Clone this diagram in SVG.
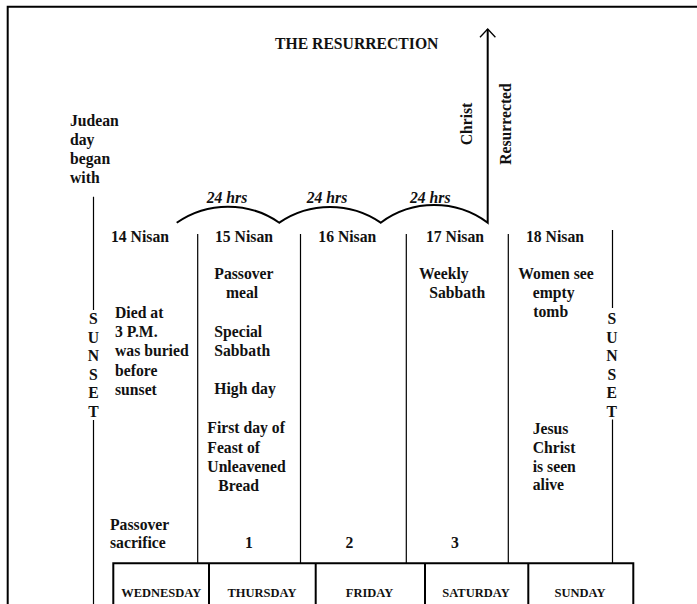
<svg xmlns="http://www.w3.org/2000/svg" width="697" height="604" viewBox="0 0 697 604">
<style>
text{font-family:"Liberation Serif","Times New Roman",serif;font-weight:bold;font-size:15.7px;fill:#111}
.it{font-style:italic}
.day{font-size:12.5px;text-anchor:middle}
.mid{text-anchor:middle}
.thin{stroke:#000;stroke-width:1.2;fill:none}
.thick{stroke:#000;stroke-width:2;fill:none}
</style>
<rect width="697" height="604" fill="#fff"/>
<g id="frame">
<path class="thick" d="M7.7,604 V6.7 H697"/>
</g>
<g id="title"><text x="275" y="49.3">THE RESURRECTION</text></g>
<g id="judean">
<text x="70" y="126">Judean</text>
<text x="70" y="144.9">day</text>
<text x="70" y="163.8">began</text>
<text x="70" y="182.7">with</text>
</g>
<g id="connectors">
<path class="thick" d="M176.7,222.7 A90,90 0 0 1 279.3,222.7 A90,90 0 0 1 380.7,222.7 A90,90 0 0 1 487.7,222.7 V29"/>
<path stroke="#000" stroke-width="1.3" fill="none" d="M480,37.2 L487.7,29 L495.4,37.2"/>
</g>
<g id="resurrected">
<text class="mid" transform="translate(471.5,124) rotate(-90)">Christ</text>
<text class="mid" transform="translate(510.5,124) rotate(-90)">Resurrected</text>
</g>
<g id="hours">
<text class="it" x="206.7" y="202.7">24 hrs</text>
<text class="it" x="306.7" y="202.7">24 hrs</text>
<text class="it" x="410" y="202.7">24 hrs</text>
</g>
<g id="gridlines">
<path class="thin" d="M93.5,196.7 V310 M93.5,420 V604"/>
<path class="thin" d="M612.5,230 V308 M612.5,419.5 V563.3"/>
<path class="thin" d="M197.7,234 V563.3 M300.5,234 V563.3 M406.3,234 V563.3 M508.3,234 V563.3"/>
</g>
<g id="sunset-left">
<text class="mid" x="93.4" y="324">S</text>
<text class="mid" x="93.4" y="342.6">U</text>
<text class="mid" x="93.4" y="361.2">N</text>
<text class="mid" x="93.4" y="379.8">S</text>
<text class="mid" x="93.4" y="398.4">E</text>
<text class="mid" x="93.4" y="417">T</text>
</g>
<g id="sunset-right">
<text class="mid" x="611.8" y="324">S</text>
<text class="mid" x="611.8" y="342.6">U</text>
<text class="mid" x="611.8" y="361.2">N</text>
<text class="mid" x="611.8" y="379.8">S</text>
<text class="mid" x="611.8" y="398.4">E</text>
<text class="mid" x="611.8" y="417">T</text>
</g>
<g id="nisan14">
<text x="111" y="241.7">14 Nisan</text>
<text x="115" y="318">Died at</text>
<text x="115" y="337.2">3 P.M.</text>
<text x="115" y="356.4">was buried</text>
<text x="115" y="375.5">before</text>
<text x="115" y="394.5">sunset</text>
<text x="110" y="530">Passover</text>
<text x="110" y="547.7">sacrifice</text>
</g>
<g id="nisan15">
<text x="215" y="241.7">15 Nisan</text>
<text x="214.3" y="279.3">Passover</text>
<text x="226" y="298">meal</text>
<text x="214.3" y="337.3">Special</text>
<text x="214.3" y="356.2">Sabbath</text>
<text x="214.3" y="394.4">High day</text>
<text x="207.3" y="433.4">First day of</text>
<text x="207.3" y="452.6">Feast of</text>
<text x="207.3" y="471.8">Unleavened</text>
<text x="218.3" y="490.5">Bread</text>
<text class="mid" x="249" y="547.7">1</text>
</g>
<g id="nisan16">
<text x="318.3" y="241.7">16 Nisan</text>
<text class="mid" x="349.3" y="547.7">2</text>
</g>
<g id="nisan17">
<text x="426" y="241.7">17 Nisan</text>
<text x="419" y="279.3">Weekly</text>
<text x="429.3" y="298.3">Sabbath</text>
<text class="mid" x="455" y="547.7">3</text>
</g>
<g id="nisan18">
<text x="526" y="241.7">18 Nisan</text>
<text x="518.3" y="279.3">Women see</text>
<text x="532.7" y="298.3">empty</text>
<text x="533.3" y="316.9">tomb</text>
<text x="532.7" y="434.3">Jesus</text>
<text x="532.7" y="452.9">Christ</text>
<text x="532.7" y="471.6">is seen</text>
<text x="532.7" y="490.3">alive</text>
</g>
<g id="weekdays">
<path class="thick" d="M113.3,604 V563.3 H633.3 V604 M209,563.3 V604 M315.7,563.3 V604 M425,563.3 V604 M528.3,563.3 V604"/>
<text class="day" x="161.2" y="596.7">WEDNESDAY</text>
<text class="day" x="262" y="596.7">THURSDAY</text>
<text class="day" x="369.5" y="596.7">FRIDAY</text>
<text class="day" x="476" y="596.7">SATURDAY</text>
<text class="day" x="580" y="596.7">SUNDAY</text>
</g>
</svg>
